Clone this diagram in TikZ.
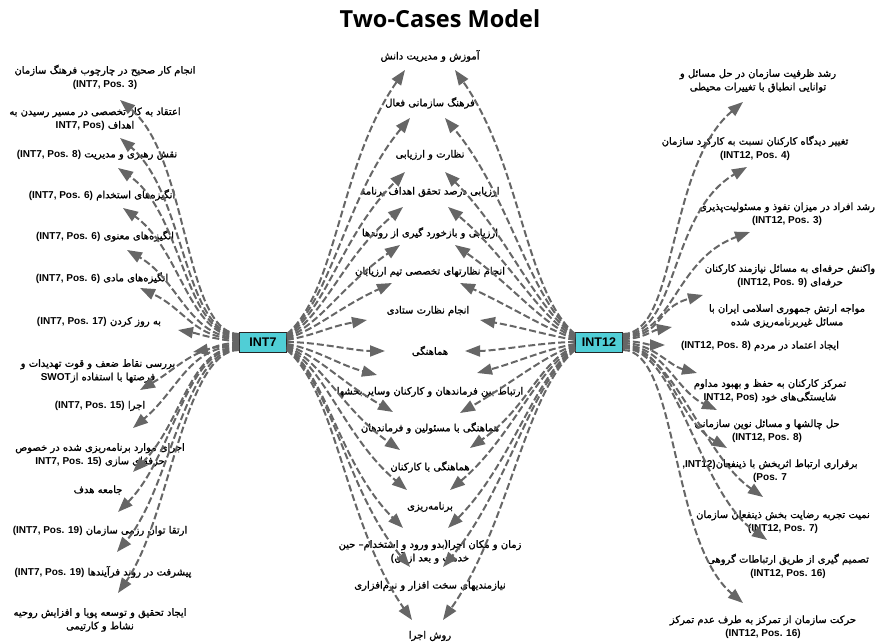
\documentclass[tikz,border=0pt]{standalone}
\usepackage{fontspec}
\TeXXeTstate=1
\newfontfamily\arabicfont[Script=Arabic,FakeBold=1.2]{DejaVu Sans}
\newfontfamily\latinfont{Liberation Sans}
\newfontfamily\titlefont{Open Sans}
\usetikzlibrary{arrows.meta}
\definecolor{arrgray}{RGB}{102,102,102}
\definecolor{hubcyan}{RGB}{80,206,214}
\newcommand\fa[1]{\beginR#1\endR}
\newcommand\la[1]{\beginL{\latinfont\bfseries #1}\endL}
\tikzset{
  lab/.style={font=\arabicfont\fontsize{10}{13.5}\selectfont, align=center, inner sep=3pt},
  hub/.style={draw=black!85, fill=hubcyan, line width=0.8pt, minimum width=47pt, minimum height=20pt, inner sep=1pt, font=\latinfont\bfseries\fontsize{12.5}{14}\selectfont},
  arr/.style={draw=arrgray, line width=2pt, dash pattern=on 7pt off 3pt, -{Triangle[length=15pt,width=11pt]}}
}
\begin{document}
\begin{tikzpicture}[x=1pt,y=1pt]
\useasboundingbox (0,0) rectangle (876,643);
\node[font=\titlefont\bfseries\fontsize{23.5}{26}\selectfont] (title) at (440,624) {Two-Cases Model};
\node[hub] (i7) at (263,301) {INT7};
\node[hub] (i12) at (599,301) {INT12};
% left
\node[lab] (l1) at (105,566) {\fa{انجام کار صحیح در چارچوب فرهنگ سازمان}\\\la{(INT7, Pos. 3)}};
\node[lab] (l2) at (95,524) {\fa{اعتقاد به کار تخصصی در مسیر رسیدن به}\\\fa{اهداف \la{INT7, Pos)}}};
\node[lab] (l3) at (97,488) {\fa{نقش رهبری و مدیریت \la{(INT7, Pos. 8)}}};
\node[lab] (l4) at (102,448) {\fa{انگیزه‌های استخدام \la{(INT7, Pos. 6)}}};
\node[lab] (l5) at (105,407) {\fa{انگیزه‌های معنوی \la{(INT7, Pos. 6)}}};
\node[lab] (l6) at (102,365) {\fa{انگیزه‌های مادی \la{(INT7, Pos. 6)}}};
\node[lab] (l7) at (99,321) {\fa{به روز کردن \la{(INT7, Pos. 17)}}};
\node[lab] (l8) at (98,272) {\fa{بررسی نقاط ضعف و قوت  تهدیدات و}\\\fa{فرصتها با استفاده از\la{SWOT}}};
\node[lab] (l9) at (100,237) {\fa{اجرا \la{(INT7, Pos. 15)}}};
\node[lab] (l10) at (100,188) {\fa{اجرای موارد برنامه‌ریزی شده در خصوص}\\\fa{حرفه‌ای سازی \la{INT7, Pos. 15)}}};
\node[lab] (l11) at (98,153) {\fa{جامعه هدف}};
\node[lab] (l12) at (100,112) {\fa{ارتقا توان رزمی سازمان \la{(INT7, Pos. 19)}}};
\node[lab] (l13) at (103,71) {\fa{پیشرفت در روند فرآیندها \la{(INT7, Pos. 19)}}};
\node[lab] (l14) at (100,23) {\fa{ایجاد تحقیق و توسعه  پویا و افزایش  روحیه}\\\fa{نشاط و کارتیمی}};
% middle
\node[lab] (m1) at (430,587) {\fa{آموزش و مدیریت دانش}};
\node[lab] (m2) at (430,540) {\fa{فرهنگ سازمانی فعال}};
\node[lab] (m3) at (430,488) {\fa{نظارت و ارزیابی}};
\node[lab] (m4) at (430,451) {\fa{ارزیابی درصد تحقق اهداف برنامه}};
\node[lab] (m5) at (430,410) {\fa{ارزیابی و بازخورد گیری از روندها}};
\node[lab] (m6) at (430,371) {\fa{انجام نظارتهای تخصصی تیم ارزیابان}};
\node[lab] (m7) at (428,332) {\fa{انجام نظارت ستادی}};
\node[lab] (m8) at (430,292) {\fa{هماهنگی}};
\node[lab] (m9) at (430,251) {\fa{ارتباط بین فرماندهان و کارکنان وسایر بخشها}};
\node[lab] (m10) at (430,215) {\fa{هماهنگی با مسئولین و فرماندهان}};
\node[lab] (m11) at (430,176) {\fa{هماهنگی با کارکنان}};
\node[lab] (m12) at (430,136) {\fa{برنامه‌ریزی}};
\node[lab] (m13) at (430,91) {\fa{زمان و مکان اجرا\la{)}بدو ورود و استخدام– حین}\\\fa{خدمت و بعد از آن\la{(}}};
\node[lab] (m14) at (430,57) {\fa{نیازمندیهای سخت افزار و نرم‌افزاری}};
\node[lab] (m15) at (430,7) {\fa{روش اجرا}};
% right
\node[lab] (r1) at (758,562) {\fa{رشد ظرفیت سازمان در حل مسائل و}\\\fa{توانایی انطباق با تغییرات محیطی}};
\node[lab] (r2) at (755,495) {\fa{تغییر دیدگاه کارکنان نسبت به کارکرد سازمان}\\\la{(INT12, Pos. 4)}};
\node[lab] (r3) at (787,429) {\fa{رشد افراد در میزان نفوذ و مسئولیت‌پذیری}\\\la{(INT12, Pos. 3)}};
\node[lab] (r4) at (790,367) {\fa{واکنش حرفه‌ای به مسائل نیازمند کارکنان}\\\fa{حرفه‌ای \la{(INT12, Pos. 9)}}};
\node[lab] (r5) at (787,327) {\fa{مواجه  ارتش جمهوری اسلامی ایران با}\\\fa{مسائل غیربرنامه‌ریزی شده}};
\node[lab] (r6) at (760,297) {\fa{ایجاد اعتماد در مردم  \la{(INT12, Pos. 8)}}};
\node[lab] (r7) at (770,252) {\fa{تمرکز کارکنان به حفظ و بهبود مداوم}\\\fa{شایستگی‌های خود  \la{INT12, Pos)}}};
\node[lab] (r8) at (767,212) {\fa{حل چالشها و مسائل نوین سازمانی}\\\la{(INT12, Pos. 8)}};
\node[lab] (r9) at (770,172) {\fa{برقراری ارتباط اثربخش با ذینفعان\la{,INT12)}}\\\la{(Pos. 7}};
\node[lab] (r10) at (783,121) {\fa{نمیت تجربه رضایت بخش ذینفعان سازمان}\\\la{(INT12, Pos. 7)}};
\node[lab] (r11) at (788,77) {\fa{تصمیم گیری  از طریق ارتباطات گروهی}\\\la{(INT12, Pos. 16)}};
\node[lab] (r12) at (763,16) {\fa{حرکت سازمان از تمرکز به طرف عدم تمرکز}\\\la{(INT12, Pos. 16)}};
% left arrows
\draw[arr] ([yshift=8pt]i7.west) to[out=180,in=-40,out distance=55pt,in distance=90pt] ([shift={(15pt,-23pt)}]l1.center);
\draw[arr] ([yshift=7pt]i7.west) to[out=180,in=-40,out distance=55pt,in distance=85pt] ([shift={(25pt,-19pt)}]l2.center);
\draw[arr] ([yshift=6pt]i7.west) to[out=180,in=-35,out distance=55pt,in distance=80pt] ([shift={(21pt,-13pt)}]l3.center);
\draw[arr] ([yshift=5pt]i7.west) to[out=180,in=-35,out distance=50pt,in distance=70pt] ([shift={(21pt,-13pt)}]l4.center);
\draw[arr] ([yshift=4pt]i7.west) to[out=180,in=-30,out distance=50pt,in distance=60pt] ([shift={(22pt,-14pt)}]l5.center);
\draw[arr] ([yshift=3pt]i7.west) to[out=180,in=-25,out distance=45pt,in distance=50pt] ([shift={(38pt,-10pt)}]l6.center);
\draw[arr] ([yshift=1pt]i7.west) to[out=180,in=-10,out distance=20pt,in distance=20pt] ([shift={(79pt,-8pt)}]l7.center);
\draw[arr] ([yshift=-1pt]i7.west) to[out=180,in=10,out distance=20pt,in distance=20pt] ([shift={(95pt,19pt)}]l8.center);
\draw[arr] ([yshift=-3pt]i7.west) to[out=180,in=30,out distance=45pt,in distance=45pt] ([shift={(40pt,16pt)}]l9.center);
\draw[arr] ([yshift=-4pt]i7.west) to[out=180,in=40,out distance=50pt,in distance=60pt] ([shift={(33pt,27pt)}]l10.center);
\draw[arr] ([yshift=-5pt]i7.west) to[out=180,in=45,out distance=50pt,in distance=70pt] ([shift={(35pt,18pt)}]l11.center);
\draw[arr] ([yshift=-6pt]i7.west) to[out=180,in=45,out distance=55pt,in distance=80pt] ([shift={(18pt,19pt)}]l12.center);
\draw[arr] ([yshift=-7pt]i7.west) to[out=180,in=50,out distance=55pt,in distance=85pt] ([shift={(14pt,20pt)}]l13.center);
\draw[arr] ([yshift=-8pt]i7.west) to[out=180,in=55,out distance=55pt,in distance=90pt] ([shift={(18pt,27pt)}]l14.center);
% middle arrows from INT7
\draw[arr] ([yshift=8pt]i7.east) to[out=40,in=-125,out distance=65pt,in distance=115pt] ([shift={(-25pt,-14pt)}]m1.center);
\draw[arr] ([yshift=7pt]i7.east) to[out=38,in=-130,out distance=58pt,in distance=100pt] ([shift={(-20pt,-15pt)}]m2.center);
\draw[arr] ([yshift=6pt]i7.east) to[out=35,in=-135,out distance=50pt,in distance=90pt] ([shift={(-25pt,-17pt)}]m3.center);
\draw[arr] ([yshift=5pt]i7.east) to[out=30,in=-140,out distance=45pt,in distance=80pt] ([shift={(-27pt,-15pt)}]m4.center);
\draw[arr] ([yshift=4pt]i7.east) to[out=25,in=-145,out distance=40pt,in distance=70pt] ([shift={(-30pt,-12pt)}]m5.center);
\draw[arr] ([yshift=3pt]i7.east) to[out=20,in=-155,out distance=35pt,in distance=60pt] ([shift={(-38pt,-11pt)}]m6.center);
\draw[arr] ([yshift=2pt]i7.east) to[out=10,in=-170,out distance=30pt,in distance=40pt] ([shift={(-61pt,-9pt)}]m7.center);
\draw[arr] ([yshift=0pt]i7.east) to[out=0,in=180,out distance=30pt,in distance=30pt] ([shift={(-45pt,0pt)}]m8.center);
\draw[arr] ([yshift=-2pt]i7.east) to[out=-10,in=165,out distance=30pt,in distance=40pt] ([shift={(-53pt,17pt)}]m9.center);
\draw[arr] ([yshift=-3pt]i7.east) to[out=-20,in=150,out distance=35pt,in distance=60pt] ([shift={(-37pt,16pt)}]m10.center);
\draw[arr] ([yshift=-4pt]i7.east) to[out=-25,in=145,out distance=40pt,in distance=70pt] ([shift={(-30pt,17pt)}]m11.center);
\draw[arr] ([yshift=-5pt]i7.east) to[out=-30,in=140,out distance=45pt,in distance=80pt] ([shift={(-23pt,17pt)}]m12.center);
\draw[arr] ([yshift=-6pt]i7.east) to[out=-35,in=135,out distance=50pt,in distance=90pt] ([shift={(-27pt,24pt)}]m13.center);
\draw[arr] ([yshift=-7pt]i7.east) to[out=-38,in=130,out distance=58pt,in distance=100pt] ([shift={(-20pt,19pt)}]m14.center);
\draw[arr] ([yshift=-8pt]i7.east) to[out=-40,in=125,out distance=65pt,in distance=115pt] ([shift={(-18pt,16pt)}]m15.center);
% middle arrows from INT12
\draw[arr] ([yshift=8pt]i12.west) to[out=140,in=-55,out distance=65pt,in distance=115pt] ([shift={(25pt,-14pt)}]m1.center);
\draw[arr] ([yshift=7pt]i12.west) to[out=142,in=-50,out distance=58pt,in distance=100pt] ([shift={(15pt,-15pt)}]m2.center);
\draw[arr] ([yshift=6pt]i12.west) to[out=145,in=-45,out distance=50pt,in distance=90pt] ([shift={(15pt,-17pt)}]m3.center);
\draw[arr] ([yshift=5pt]i12.west) to[out=150,in=-40,out distance=45pt,in distance=80pt] ([shift={(18pt,-15pt)}]m4.center);
\draw[arr] ([yshift=4pt]i12.west) to[out=155,in=-35,out distance=40pt,in distance=70pt] ([shift={(25pt,-12pt)}]m5.center);
\draw[arr] ([yshift=3pt]i12.west) to[out=160,in=-25,out distance=35pt,in distance=60pt] ([shift={(30pt,-11pt)}]m6.center);
\draw[arr] ([yshift=2pt]i12.west) to[out=170,in=-10,out distance=30pt,in distance=40pt] ([shift={(52pt,-9pt)}]m7.center);
\draw[arr] ([yshift=0pt]i12.west) to[out=180,in=0,out distance=30pt,in distance=30pt] ([shift={(35pt,0pt)}]m8.center);
\draw[arr] ([yshift=-2pt]i12.west) to[out=-170,in=15,out distance=30pt,in distance=40pt] ([shift={(47pt,19pt)}]m9.center);
\draw[arr] ([yshift=-3pt]i12.west) to[out=-160,in=30,out distance=35pt,in distance=60pt] ([shift={(30pt,15pt)}]m10.center);
\draw[arr] ([yshift=-4pt]i12.west) to[out=-155,in=35,out distance=40pt,in distance=70pt] ([shift={(40pt,19pt)}]m11.center);
\draw[arr] ([yshift=-5pt]i12.west) to[out=-150,in=40,out distance=45pt,in distance=80pt] ([shift={(20pt,17pt)}]m12.center);
\draw[arr] ([yshift=-6pt]i12.west) to[out=-145,in=45,out distance=50pt,in distance=90pt] ([shift={(18pt,24pt)}]m13.center);
\draw[arr] ([yshift=-7pt]i12.west) to[out=-142,in=50,out distance=58pt,in distance=100pt] ([shift={(13pt,19pt)}]m14.center);
\draw[arr] ([yshift=-8pt]i12.west) to[out=-140,in=55,out distance=65pt,in distance=115pt] ([shift={(13pt,16pt)}]m15.center);
% right arrows
\draw[arr] ([yshift=8pt]i12.east) to[out=0,in=-140,out distance=55pt,in distance=100pt] ([shift={(-15pt,-21pt)}]r1.center);
\draw[arr] ([yshift=7pt]i12.east) to[out=0,in=-150,out distance=55pt,in distance=90pt] ([shift={(-8pt,-19pt)}]r2.center);
\draw[arr] ([yshift=6pt]i12.east) to[out=0,in=-160,out distance=50pt,in distance=80pt] ([shift={(-37pt,-18pt)}]r3.center);
\draw[arr] ([yshift=5pt]i12.east) to[out=0,in=-165,out distance=40pt,in distance=50pt] ([shift={(-87pt,-19pt)}]r4.center);
\draw[arr] ([yshift=3pt]i12.east) to[out=0,in=-170,out distance=20pt,in distance=20pt] ([shift={(-115pt,-11pt)}]r5.center);
\draw[arr] ([yshift=1pt]i12.east) to[out=0,in=180,out distance=15pt,in distance=15pt] ([shift={(-95pt,1pt)}]r6.center);
\draw[arr] ([yshift=-1pt]i12.east) to[out=0,in=165,out distance=30pt,in distance=30pt] ([shift={(-73pt,18pt)}]r7.center);
\draw[arr] ([yshift=-3pt]i12.east) to[out=0,in=155,out distance=40pt,in distance=45pt] ([shift={(-50pt,21pt)}]r8.center);
\draw[arr] ([yshift=-4pt]i12.east) to[out=0,in=150,out distance=45pt,in distance=60pt] ([shift={(-43pt,23pt)}]r9.center);
\draw[arr] ([yshift=-5pt]i12.east) to[out=0,in=145,out distance=50pt,in distance=75pt] ([shift={(-20pt,25pt)}]r10.center);
\draw[arr] ([yshift=-6pt]i12.east) to[out=0,in=145,out distance=55pt,in distance=85pt] ([shift={(-21pt,26pt)}]r11.center);
\draw[arr] ([yshift=-8pt]i12.east) to[out=0,in=140,out distance=55pt,in distance=95pt] ([shift={(-20pt,24pt)}]r12.center);
\end{tikzpicture}
\end{document}
